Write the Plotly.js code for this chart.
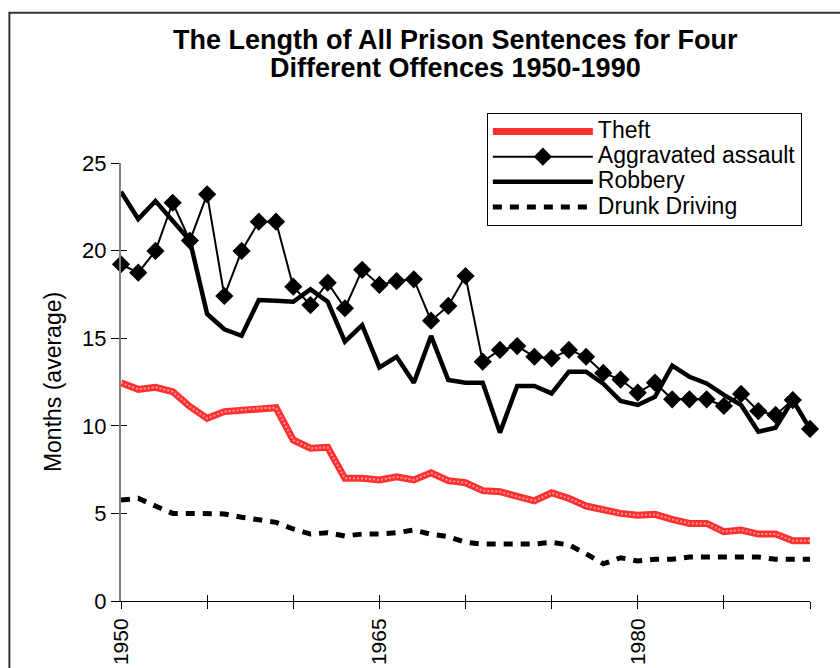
<!DOCTYPE html>
<html>
<head>
<meta charset="utf-8">
<script src="https://cdn.plot.ly/plotly-3.0.1.min.js"></script>
<style>html,body{margin:0;padding:0;background:#fff;}#chart{width:840px;height:668px;}</style>
</head>
<body>
<div id="chart"></div>
<script>
const years = [];
for (let y = 1950; y <= 1990; y++) years.push(y);

const theft = [12.46, 12.08, 12.2, 11.95, 11.1, 10.43, 10.81, 10.9, 11.0, 11.03,
  9.19, 8.72, 8.77, 7.0, 7.0, 6.91, 7.09, 6.91, 7.32, 6.87,
  6.75, 6.3, 6.24, 5.95, 5.72, 6.18, 5.86, 5.42, 5.2, 5.0,
  4.89, 4.95, 4.66, 4.43, 4.43, 3.96, 4.05, 3.82, 3.82, 3.44, 3.44];

const assault = [19.22, 18.74, 19.98, 22.73, 20.57, 23.21, 17.41, 19.98, 21.65, 21.65,
  17.94, 16.89, 18.17, 16.71, 18.9, 18.04, 18.26, 18.36, 16.0, 16.84,
  18.55, 13.66, 14.33, 14.55, 13.94, 13.85, 14.33, 13.94, 13.02, 12.64,
  11.89, 12.46, 11.51, 11.51, 11.51, 11.13, 11.82, 10.84, 10.62, 11.47, 9.82];

const robbery = [23.36, 21.8, 22.83, 21.7, 20.57, 16.38, 15.51, 15.14, 17.18, 17.14,
  17.08, 17.79, 17.08, 14.8, 15.75, 13.33, 13.94, 12.46, 15.13, 12.61,
  12.46, 12.46, 9.61, 12.27, 12.27, 11.85, 13.09, 13.09, 12.4, 11.42,
  11.19, 11.66, 13.43, 12.8, 12.42, 11.76, 11.19, 9.66, 9.89, 11.47, 9.82];

const drunk = [5.76, 5.86, 5.42, 5.0, 5.0, 5.0, 4.97, 4.78, 4.66, 4.49,
  4.11, 3.82, 3.9, 3.71, 3.82, 3.82, 3.9, 4.05, 3.81, 3.67,
  3.35, 3.25, 3.25, 3.25, 3.25, 3.35, 3.2, 2.7, 2.12, 2.47,
  2.28, 2.38, 2.38, 2.51, 2.51, 2.51, 2.51, 2.51, 2.38, 2.38, 2.38];

const xTickVals = [1950, 1955, 1960, 1965, 1970, 1975, 1980, 1985, 1990];
const xTickText = ['1950', '', '', '1965', '', '', '1980', '', ''];
const yTickVals = [0, 5, 10, 15, 20, 25];
const seriesNames = ['Theft', 'Aggravated assault', 'Robbery', 'Drunk Driving'];
const titleLines = ['The Length of All Prison Sentences for Four', 'Different Offences 1950-1990'];

const FONT = 'Arial, "Liberation Sans", sans-serif';
const FS = 22;
const big = s => '<span style="font-size:23px">' + s + '</span>';

const traces = [
  {x: years, y: theft, name: big(seriesNames[0]), mode: 'lines', cliponaxis: false,
   line: {color: '#ff3030', width: 7}},
  {x: years, y: theft, name: 'Theft texture', mode: 'lines', cliponaxis: false, showlegend: false,
   line: {color: 'rgba(255,235,235,0.55)', width: 2, dash: '2px,2px'}},
  {x: years, y: assault, name: big(seriesNames[1]), mode: 'lines+markers', cliponaxis: false,
   line: {color: '#000', width: 2}, marker: {symbol: 'diamond', size: 14, color: '#000'}},
  {x: years, y: robbery, name: big(seriesNames[2]), mode: 'lines', cliponaxis: false,
   line: {color: '#000', width: 4.5}},
  {x: years, y: drunk, name: big(seriesNames[3]), mode: 'lines', cliponaxis: false,
   line: {color: '#000', width: 5, dash: '9px,8px'}}
];

const layout = {
  width: 840, height: 668,
  margin: {l: 121, r: 30, t: 163, b: 67},
  paper_bgcolor: '#fff', plot_bgcolor: '#fff',
  font: {family: FONT, color: '#000', size: FS},
  showlegend: true,
  legend: {x: 0.531, y: 1.114, xanchor: 'left', yanchor: 'top',
           bordercolor: '#000', borderwidth: 1, bgcolor: '#fff',
           font: {family: FONT, size: 17, color: '#000'},
           itemwidth: 100, tracegroupgap: 0},
  xaxis: {range: [1950, 1990], tickvals: xTickVals, ticktext: xTickText,
          tickangle: -90, ticks: 'outside', ticklen: 7, tickcolor: '#000', tickwidth: 1,
          ticklabelstandoff: 1,
          showline: true, linecolor: '#000', linewidth: 1, showgrid: false, zeroline: false,
          tickfont: {family: FONT, size: 21, color: '#000'}},
  xaxis2: {range: [1950, 1990], tickvals: xTickVals, overlaying: 'x', ticks: 'inside',
           ticklen: 6, tickcolor: '#000', tickwidth: 1, showticklabels: false,
           showline: false, showgrid: false, zeroline: false, side: 'bottom'},
  yaxis: {range: [0, 25], tickvals: yTickVals, ticks: 'outside', ticklen: 8,
          tickcolor: '#000', tickwidth: 1, showline: true, linecolor: '#808080', linewidth: 2,
          showgrid: false, zeroline: false,
          tickfont: {family: FONT, size: FS, color: '#000'},
          title: {text: 'Months (average)', font: {family: FONT, size: 23, color: '#000'}, standoff: 14}},
  yaxis2: {range: [0, 25], tickvals: yTickVals, overlaying: 'y', ticks: 'inside', ticklen: 6,
           tickcolor: '#000', tickwidth: 1, showticklabels: false, showline: false,
           showgrid: false, zeroline: false, side: 'left'},
  annotations: [
    {text: '<b>' + titleLines[0] + '</b>', xref: 'paper', yref: 'paper', x: 0.485, y: 1.281,
     xanchor: 'center', yanchor: 'middle', showarrow: false,
     font: {family: FONT, size: 27, color: '#000'}},
    {text: '<b>' + titleLines[1] + '</b>', xref: 'paper', yref: 'paper', x: 0.485, y: 1.217,
     xanchor: 'center', yanchor: 'middle', showarrow: false,
     font: {family: FONT, size: 27, color: '#000'}}
  ],
  shapes: [
    {type: 'rect', xref: 'paper', yref: 'paper', x0: -0.162, x1: 1.2, y0: -0.2, y1: 1.343,
     line: {color: '#333', width: 2}, fillcolor: 'rgba(0,0,0,0)', layer: 'below'}
  ]
};

traces.push({x: [1950], y: [0], xaxis: 'x2', yaxis: 'y2', mode: 'markers',
  marker: {opacity: 0}, showlegend: false, hoverinfo: 'skip'});

Plotly.newPlot('chart', traces, layout, {displayModeBar: false, staticPlot: true});
</script>
</body>
</html>
